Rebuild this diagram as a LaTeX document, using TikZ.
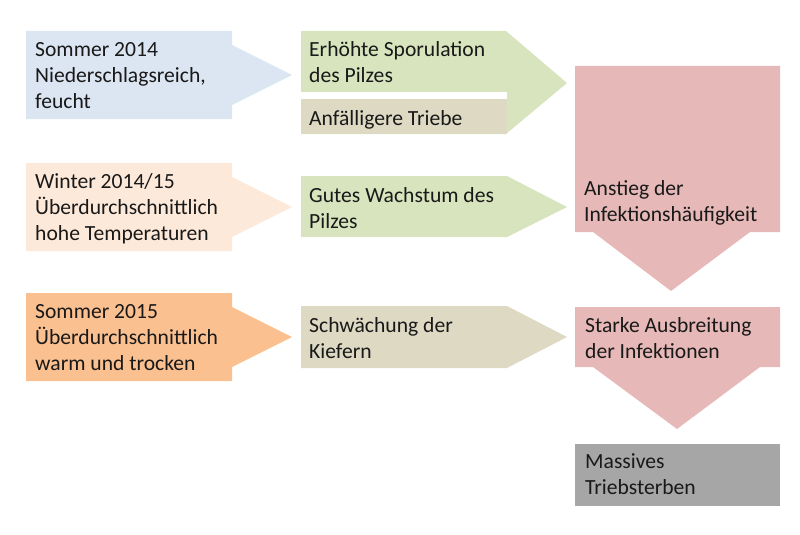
\documentclass[tikz,border=0pt]{standalone}
\usepackage{fontspec}
\setmainfont{Carlito}
\usepackage{tikz}
\usetikzlibrary{positioning}

\definecolor{sommerblau}{HTML}{DCE6F2}
\definecolor{winterrosa}{HTML}{FDE9D9}
\definecolor{sommerorange}{HTML}{FAC090}
\definecolor{pilzgruen}{HTML}{D7E4BD}
\definecolor{kiefernbeige}{HTML}{DDD9C3}
\definecolor{infektrot}{HTML}{E6B9B8}
\definecolor{sterbegrau}{HTML}{A6A6A6}

\begin{document}
\begin{tikzpicture}[x=1pt, y=-1pt, txt/.style={anchor=base west, inner sep=0pt, align=left, text=black!90, font=\fontsize{21.6}{25.8}\selectfont}]
\useasboundingbox (0,0) rectangle (800,535);

% Witterung (links)
\fill[sommerblau] (26,31) -- (232,31) -- (232,45) -- (292,75) -- (232,105) -- (232,119) -- (26,119) -- cycle;
\fill[winterrosa] (26,163) -- (232,163) -- (232,177) -- (292,207) -- (232,237) -- (232,251) -- (26,251) -- cycle;
\fill[sommerorange] (26,293) -- (232,293) -- (232,307) -- (292,337) -- (232,367) -- (232,381) -- (26,381) -- cycle;

% Folgen (Mitte)
\fill[pilzgruen] (301,31) -- (506,31) -- (567,83) -- (506,134) -- (301,134) -- cycle;
\fill[white] (301,92) rectangle (507,99);
\fill[kiefernbeige] (301,99) rectangle (507,134);
\fill[pilzgruen] (301,176) -- (507,176) -- (567,207) -- (507,237) -- (301,237) -- cycle;
\fill[kiefernbeige] (301,306) -- (507,306) -- (567,337) -- (507,368) -- (301,368) -- cycle;

% Infektion (rechts)
\fill[infektrot] (575,66) -- (780,66) -- (780,232) -- (750,232) -- (671,291) -- (593,232) -- (575,232) -- cycle;
\fill[infektrot] (575,307) -- (780,307) -- (780,367) -- (760,367) -- (677,429) -- (593,367) -- (575,367) -- cycle;
\fill[sterbegrau] (575,444) rectangle (780,506);

% Texte: Anker auf der letzten Grundlinie
\path
  node (som14) at (35,108) [txt] {Sommer 2014\\Niederschlagsreich,\\feucht}
  node (win15) at (35,240) [txt] {Winter 2014/15\\Überdurchschnittlich\\hohe Temperaturen}
  node (som15) at (35,370) [txt] {Sommer 2015\\Überdurchschnittlich\\warm und trocken}
  node (spor) at (309,82) [txt] {Erhöhte Sporulation\\des Pilzes}
  node (trieb) at (309,125) [txt] {Anfälligere Triebe}
  node (wachs) at (309,228) [txt] {Gutes Wachstum des\\Pilzes}
  node (schw) at (309,358) [txt] {Schwächung der\\Kiefern}
  node (anst) at (584,221) [txt] {Anstieg der\\Infektionshäufigkeit}
  node (ausb) at (585,358) [txt] {Starke Ausbreitung\\der Infektionen}
  node (sterb) at (585,494) [txt] {Massives\\Triebsterben};
\end{tikzpicture}
\end{document}
